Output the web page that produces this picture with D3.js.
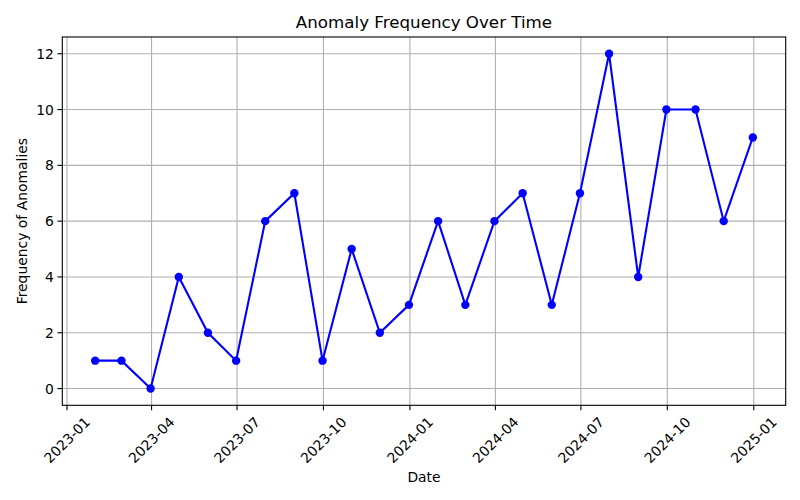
<!DOCTYPE html>
<html><head><meta charset="utf-8">
<script src="https://cdn.jsdelivr.net/npm/d3@7"></script>
<style>body{margin:0;background:#fff}svg{display:block}text{font-family:"DejaVu Sans",sans-serif}</style>
</head><body>
<svg id="c" width="800" height="500"></svg>
<script>
const dates = ["2023-01-31","2023-02-28","2023-03-31","2023-04-30","2023-05-31","2023-06-30","2023-07-31","2023-08-31","2023-09-30","2023-10-31","2023-11-30","2023-12-31","2024-01-31","2024-02-29","2024-03-31","2024-04-30","2024-05-31","2024-06-30","2024-07-31","2024-08-31","2024-09-30","2024-10-31","2024-11-30","2024-12-31"];
const values = [1,1,0,4,2,1,6,7,1,5,2,3,6,3,6,7,3,7,12,4,10,10,6,9];
const xTicks = ["2023-01","2023-04","2023-07","2023-10","2024-01","2024-04","2024-07","2024-10","2025-01"];
const yTicks = [0,2,4,6,8,10,12];
const title = "Anomaly Frequency Over Time";
const xLabel = "Date";
const yLabel = "Frequency of Anomalies";

const parse = d3.utcParse("%Y-%m-%d");
const parseM = d3.utcParse("%Y-%m");
const data = dates.map((d,i)=>({d:parse(d), v:values[i]}));
const L=62.3, R=785.7, T=37, B=405.3;
const svg = d3.select("#c");
const ext = d3.extent(data, d=>d.d);
const span = ext[1]-ext[0];
const x = d3.scaleUtc().domain([new Date(+ext[0]-span*0.05), new Date(+ext[1]+span*0.05)]).range([L,R]);
const y = d3.scaleLinear().domain([-0.6,12.6]).range([B,T]);

// grid
const g = svg.append("g");
xTicks.forEach(t=>{const px=x(parseM(t)); g.append("line").attr("x1",px).attr("x2",px).attr("y1",T).attr("y2",B).attr("stroke","#b0b0b0").attr("stroke-width",1.1);});
yTicks.forEach(t=>{const py=y(t); g.append("line").attr("x1",L).attr("x2",R).attr("y1",py).attr("y2",py).attr("stroke","#b0b0b0").attr("stroke-width",1.1);});

// line
svg.append("path").datum(data).attr("fill","none").attr("stroke","#0000ff").attr("stroke-width",2.1)
  .attr("d", d3.line().x(d=>x(d.d)).y(d=>y(d.v)));
svg.selectAll("circle.p").data(data).enter().append("circle").attr("cx",d=>x(d.d)).attr("cy",d=>y(d.v)).attr("r",4.2).attr("fill","#0000ff");

// frame
svg.append("rect").attr("x",L).attr("y",T).attr("width",R-L).attr("height",B-T).attr("fill","none").attr("stroke","#000").attr("stroke-width",1.1);

// ticks
xTicks.forEach(t=>{const px=x(parseM(t));
  svg.append("line").attr("x1",px).attr("x2",px).attr("y1",B).attr("y2",B+4.9).attr("stroke","#000").attr("stroke-width",1.1);
  svg.append("text").attr("transform",`translate(${px},440) rotate(-45)`).attr("text-anchor","middle").attr("dominant-baseline","central").attr("font-size",13.9).attr("fill","#000").text(t);
});
yTicks.forEach(t=>{const py=y(t);
  svg.append("line").attr("x1",L-4.9).attr("x2",L).attr("y1",py).attr("y2",py).attr("stroke","#000").attr("stroke-width",1.1);
  svg.append("text").attr("x",L-8.4).attr("y",py).attr("text-anchor","end").attr("dominant-baseline","central").attr("font-size",13.9).attr("fill","#000").text(t);
});

svg.append("text").attr("x",(L+R)/2).attr("y",22).attr("text-anchor","middle").attr("dominant-baseline","central").attr("font-size",16.7).text(title);
svg.append("text").attr("x",(L+R)/2).attr("y",477).attr("text-anchor","middle").attr("dominant-baseline","central").attr("font-size",13.9).text(xLabel);
svg.append("text").attr("transform",`translate(22,${(T+B)/2}) rotate(-90)`).attr("text-anchor","middle").attr("dominant-baseline","central").attr("font-size",13.9).text(yLabel);
</script>
</body></html>
